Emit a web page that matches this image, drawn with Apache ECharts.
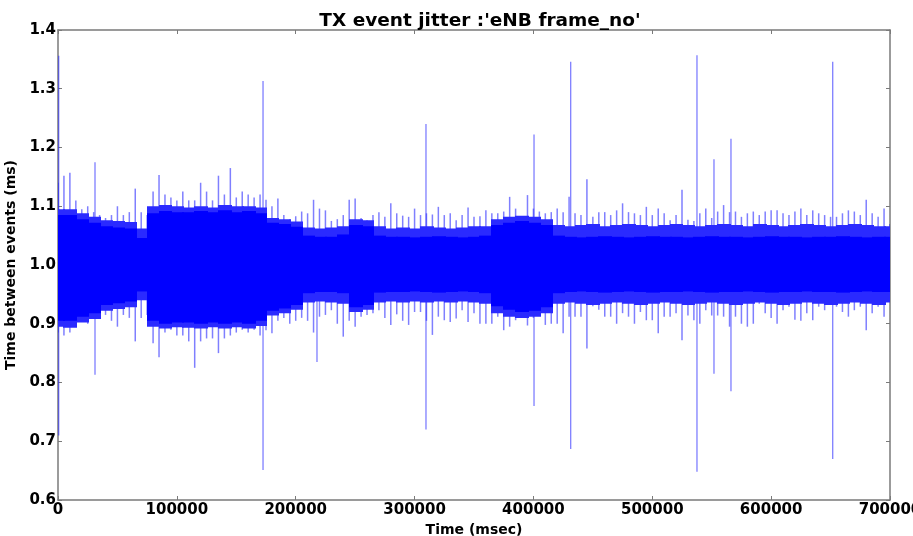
<!DOCTYPE html>
<html>
<head>
<meta charset="utf-8">
<script src="https://cdn.jsdelivr.net/npm/echarts@6/dist/echarts.min.js"></script>
<style>
  html, body { margin: 0; padding: 0; background: #fff; }
  #chart { width: 913px; height: 536px; }
</style>
</head>
<body>
<div id="chart"></div>
<script>
// axis ticks
const xTicks = [0, 100000, 200000, 300000, 400000, 500000, 600000, 700000];
const yTicks = [0.6, 0.7, 0.8, 0.9, 1.0, 1.1, 1.2, 1.3, 1.4];

const bandStep = 10000;
const coreHi = [1.085,1.085,1.078,1.072,1.066,1.064,1.062,1.046,1.088,1.092,
  1.09,1.09,1.092,1.09,1.093,1.09,1.092,1.088,1.072,1.07,
  1.065,1.05,1.048,1.048,1.052,1.068,1.066,1.05,1.048,1.048,
  1.047,1.048,1.049,1.048,1.047,1.048,1.05,1.068,1.072,1.075,
  1.072,1.068,1.05,1.048,1.047,1.048,1.049,1.048,1.047,1.048,
  1.049,1.048,1.048,1.047,1.048,1.049,1.048,1.048,1.047,1.048,
  1.049,1.048,1.048,1.047,1.048,1.048,1.049,1.048,1.047,1.048,
  1.048];
const coreLo = [0.905,0.905,0.912,0.918,0.932,0.935,0.938,0.955,0.905,0.9,
  0.902,0.902,0.9,0.902,0.9,0.902,0.9,0.905,0.922,0.926,
  0.932,0.952,0.954,0.954,0.952,0.928,0.932,0.953,0.954,0.954,
  0.955,0.954,0.953,0.954,0.955,0.954,0.952,0.93,0.924,0.92,
  0.922,0.928,0.952,0.954,0.955,0.954,0.953,0.954,0.955,0.954,
  0.953,0.954,0.954,0.955,0.954,0.953,0.954,0.954,0.955,0.954,
  0.953,0.954,0.954,0.955,0.954,0.954,0.953,0.954,0.955,0.954,
  0.954];
const bandHi = [1.095,1.095,1.088,1.082,1.076,1.075,1.073,1.062,1.10,1.102,
  1.10,1.098,1.10,1.098,1.102,1.10,1.10,1.098,1.08,1.078,
  1.074,1.064,1.062,1.064,1.066,1.078,1.076,1.066,1.062,1.064,
  1.062,1.066,1.064,1.062,1.064,1.066,1.066,1.078,1.082,1.084,
  1.082,1.078,1.068,1.066,1.068,1.07,1.066,1.068,1.07,1.068,
  1.066,1.068,1.07,1.068,1.066,1.068,1.07,1.068,1.066,1.07,
  1.068,1.066,1.068,1.07,1.068,1.066,1.068,1.07,1.068,1.066,
  1.066];
const bandLo = [0.895,0.893,0.902,0.908,0.922,0.925,0.928,0.94,0.895,0.892,
  0.894,0.893,0.892,0.894,0.892,0.894,0.892,0.896,0.914,0.918,
  0.924,0.936,0.938,0.936,0.934,0.92,0.924,0.936,0.938,0.936,
  0.938,0.936,0.938,0.936,0.938,0.936,0.934,0.918,0.912,0.91,
  0.912,0.918,0.934,0.936,0.934,0.932,0.934,0.936,0.934,0.932,
  0.934,0.936,0.934,0.932,0.934,0.936,0.934,0.932,0.934,0.936,
  0.934,0.932,0.934,0.936,0.934,0.932,0.934,0.936,0.934,0.932,
  0.936];

// outer fringe of the jitter, max / min every 5000 msec
const fringeStep = 5000;
const fringeHi = [1.14,1.152,1.157,1.11,1.095,1.10,1.09,1.085,1.08,1.085,
  1.10,1.085,1.09,1.13,1.09,1.085,1.125,1.153,1.12,1.115,
  1.11,1.125,1.11,1.11,1.14,1.125,1.11,1.152,1.12,1.165,
  1.115,1.125,1.12,1.115,1.12,1.111,1.10,1.113,1.085,1.078,
  1.083,1.091,1.088,1.111,1.096,1.093,1.075,1.078,1.085,1.111,
  1.113,1.08,1.076,1.085,1.09,1.082,1.105,1.088,1.084,1.082,
  1.096,1.085,1.088,1.086,1.099,1.085,1.088,1.076,1.085,1.098,
  1.082,1.083,1.093,1.088,1.088,1.091,1.116,1.096,1.082,1.119,
  1.096,1.091,1.088,1.09,1.096,1.09,1.116,1.088,1.085,1.146,
  1.082,1.09,1.09,1.085,1.093,1.105,1.09,1.088,1.085,1.099,
  1.085,1.096,1.088,1.076,1.085,1.128,1.077,1.075,1.088,1.096,
  1.08,1.091,1.102,1.09,1.091,1.082,1.088,1.091,1.085,1.091,
  1.093,1.093,1.088,1.085,1.091,1.096,1.085,1.093,1.088,1.085,
  1.082,1.082,1.088,1.093,1.091,1.085,1.111,1.088,1.082,1.096,
  1.07];
const fringeLo = [0.885,0.88,0.885,0.905,0.905,0.9,0.91,0.925,0.915,0.905,
  0.895,0.915,0.91,0.87,0.91,0.915,0.867,0.843,0.885,0.89,
  0.88,0.88,0.87,0.825,0.87,0.875,0.875,0.85,0.875,0.88,
  0.885,0.89,0.885,0.89,0.88,0.889,0.884,0.905,0.91,0.9,
  0.905,0.91,0.905,0.885,0.912,0.915,0.923,0.9,0.878,0.905,
  0.895,0.912,0.915,0.918,0.923,0.91,0.898,0.916,0.905,0.898,
  0.92,0.92,0.905,0.881,0.912,0.906,0.903,0.909,0.923,0.903,
  0.918,0.9,0.9,0.9,0.912,0.889,0.895,0.906,0.91,0.897,
  0.91,0.918,0.898,0.9,0.9,0.884,0.912,0.912,0.912,0.858,
  0.93,0.924,0.912,0.912,0.9,0.918,0.912,0.9,0.92,0.906,
  0.906,0.884,0.912,0.912,0.918,0.872,0.914,0.906,0.9,0.923,
  0.914,0.914,0.912,0.895,0.912,0.9,0.895,0.9,0.934,0.918,
  0.91,0.9,0.923,0.929,0.907,0.905,0.918,0.906,0.929,0.923,
  0.934,0.929,0.92,0.912,0.923,0.929,0.889,0.918,0.929,0.912,
  0.945];

// isolated long spikes
const spikeTime = [600, 31130, 172500, 217900, 309600, 400500, 431350, 537600, 551900, 566200, 651800];
const spikeHi   = [1.356, 1.175, 1.313, 1.05, 1.24, 1.222, 1.346, 1.357, 1.18, 1.215, 1.346];
const spikeLo   = [0.71, 0.813, 0.651, 0.835, 0.72, 0.76, 0.687, 0.648, 0.815, 0.785, 0.67];

const FONT = 'DejaVu Sans';
const AXIS_GRAY = '#7a7a7a';

const chart = echarts.init(document.getElementById('chart'));

// vertical segment from value(1) to value(2) at x = value(0)
function segment(color, width) {
  return function (params, api) {
    const a = api.coord([api.value(0), api.value(1)]);
    const b = api.coord([api.value(0), api.value(2)]);
    return {
      type: 'line',
      shape: { x1: a[0], y1: a[1], x2: b[0], y2: b[1] },
      style: { stroke: color, lineWidth: width }
    };
  };
}

// block of width `step` centred on x = value(0), from value(1) down to value(2)
function block(color, step) {
  return function (params, api) {
    const t = api.value(0);
    const a = api.coord([t - step / 2, api.value(1)]);
    const b = api.coord([t + step / 2, api.value(2)]);
    const x0 = Math.floor(a[0]);
    return {
      type: 'rect',
      shape: { x: x0, y: a[1], width: Math.ceil(b[0]) - x0 + 1, height: b[1] - a[1] },
      style: { fill: color }
    };
  };
}

const bandData = bandHi.map((v, i) => [i * bandStep, v, bandLo[i]]);
const coreData = coreHi.map((v, i) => [i * bandStep, v, coreLo[i]]);
const fringeData = fringeHi.map((v, i) => [i * fringeStep, v, fringeLo[i]]);
const spikeData = spikeTime.map((t, i) => [t, spikeHi[i], spikeLo[i]]);

const sideAxis = {
  axisLine: { show: true, onZero: false, lineStyle: { color: AXIS_GRAY, width: 1.5 } },
  axisTick: { show: true, inside: true, length: 4, lineStyle: { color: AXIS_GRAY } },
  axisLabel: { show: false },
  splitLine: { show: false }
};

const option = {
  animation: false,
  backgroundColor: '#fff',
  title: {
    text: "TX event jitter :'eNB frame_no'",
    left: 475,
    textAlign: 'center',
    top: 7,
    textStyle: { fontFamily: FONT, fontWeight: 'bold', fontSize: 18.5, color: '#000' }
  },
  grid: { left: 58, right: 23, top: 30, bottom: 36, outerBoundsMode: 'none', containLabel: false },
  xAxis: [
    {
      type: 'value', min: 0, max: 700000, interval: 100000,
      name: 'Time (msec)', nameLocation: 'middle', nameGap: 19,
      nameTextStyle: { fontFamily: FONT, fontWeight: 'bold', fontSize: 14, color: '#000' },
      axisLine: { show: true, onZero: false, lineStyle: { color: AXIS_GRAY, width: 1.5 } },
      axisTick: { show: true, inside: true, length: 4, lineStyle: { color: AXIS_GRAY } },
      axisLabel: {
        fontFamily: FONT, fontWeight: 'bold', fontSize: 15, color: '#000', margin: 3,
        formatter: v => xTicks.includes(v) ? String(v) : ''
      },
      splitLine: { show: false }
    },
    Object.assign({ type: 'value', position: 'top', min: 0, max: 700000, interval: 100000 }, sideAxis)
  ],
  yAxis: [
    {
      type: 'value', min: 0.6, max: 1.4, interval: 0.1,
      name: 'Time between events (ms)', nameLocation: 'middle', nameGap: 34,
      nameTextStyle: { fontFamily: FONT, fontWeight: 'bold', fontSize: 14, color: '#000' },
      axisLine: { show: true, onZero: false, lineStyle: { color: AXIS_GRAY, width: 1.5 } },
      axisTick: { show: true, inside: true, length: 4, lineStyle: { color: AXIS_GRAY } },
      axisLabel: {
        fontFamily: FONT, fontWeight: 'bold', fontSize: 15, color: '#000', margin: 2,
        formatter: v => {
          const t = yTicks.find(y => Math.abs(y - v) < 1e-6);
          return t === undefined ? '' : t.toFixed(1);
        }
      },
      splitLine: { show: false }
    },
    Object.assign({ type: 'value', position: 'right', min: 0.6, max: 1.4, interval: 0.1 }, sideAxis)
  ],
  series: [
    {
      type: 'custom', name: 'fringe', zlevel: 0, z: 1, clip: true,
      renderItem: segment('rgba(0,0,255,0.5)', 1.5),
      encode: { x: 0, y: [1, 2] },
      data: fringeData
    },
    {
      type: 'custom', name: 'spikes', zlevel: 0, z: 2, clip: true,
      renderItem: segment('rgba(40,40,255,0.6)', 1.3),
      encode: { x: 0, y: [1, 2] },
      data: spikeData
    },
    {
      type: 'custom', name: 'band', zlevel: 1, z: 3, clip: true,
      renderItem: block('#2a2aff', bandStep),
      encode: { x: 0, y: [1, 2] },
      data: bandData
    },
    {
      type: 'custom', name: 'core', zlevel: 1, z: 4, clip: true,
      renderItem: block('#0000ff', bandStep),
      encode: { x: 0, y: [1, 2] },
      data: coreData
    }
  ]
};

chart.setOption(option);
window.addEventListener('resize', () => chart.resize());
</script>
</body>
</html>
